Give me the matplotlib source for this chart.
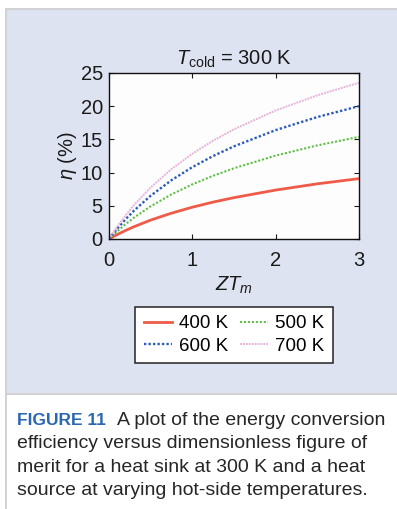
import matplotlib
matplotlib.use("Agg")
import matplotlib.pyplot as plt
from matplotlib.patches import Rectangle
from matplotlib import font_manager

# efficiency (%) against ZT_m for each hot-side temperature, T_cold = 300 K
zt = [0, 0.05, 0.1, 0.2, 0.3, 0.5, 0.75, 1.0, 1.25, 1.5, 2.0, 2.5, 3.0]
eta_400 = [0, 0.35, 0.68, 1.29, 1.85, 2.85, 3.89, 4.79, 5.56, 6.23, 7.37, 8.31, 9.09]
eta_500 = [0, 0.61, 1.18, 2.25, 3.22, 4.93, 6.72, 8.23, 9.52, 10.66, 12.56, 14.10, 15.38]
eta_600 = [0, 0.81, 1.58, 2.99, 4.27, 6.52, 8.86, 10.82, 12.50, 13.96, 16.40, 18.37, 20.00]
eta_700 = [0, 0.97, 1.89, 3.58, 5.11, 7.77, 10.53, 12.84, 14.82, 16.52, 19.36, 21.64, 23.53]
labels = ["400 K", "500 K", "600 K", "700 K"]

names = {f.name for f in font_manager.fontManager.ttflist}
sans = "Liberation Sans" if "Liberation Sans" in names else "DejaVu Sans"
narrow = "Liberation Sans Narrow" if "Liberation Sans Narrow" in names else sans
plt.rcParams["font.family"] = [sans, "DejaVu Sans"]
plt.rcParams["mathtext.fontset"] = "custom"
plt.rcParams["mathtext.rm"] = sans
plt.rcParams["mathtext.it"] = sans + ":italic"

W, H = 397, 509
fig = plt.figure(figsize=(W / 100, H / 100), dpi=100)
fig.patch.set_facecolor("white")


def box(x0, y0, x1, y1, color):
    # rectangle given in pixels from the top-left corner
    fig.patches.append(Rectangle((x0 / W, 1 - y1 / H), (x1 - x0) / W, (y1 - y0) / H,
                                 transform=fig.transFigure, color=color, lw=0, zorder=-10))


panel = "#dee3f2"
grey = "#d2d2d4"
box(7, 10, W, 393, panel)
box(5, 8, W, 10, grey)
box(5, 8, 7, H, grey)
box(7, 393, W, 395, grey)

ax = fig.add_axes([109 / W, 1 - 239 / H, 250 / W, 166 / H])
ax.set_facecolor("#fdfdfe")

l400, = ax.plot(zt, eta_400, color="#ef5b48", lw=2.0, label=labels[0])
l500, = ax.plot(zt, eta_500, color="#5fbf45", lw=1.5, ls=(0, (1, 0.9)), label=labels[1])
l600, = ax.plot(zt, eta_600, color="#2d5bbd", lw=1.7, ls=(0, (1, 0.9)), label=labels[2])
l700, = ax.plot(zt, eta_700, color="#e6b4da", lw=1.4, ls=(0, (1, 0.5)), label=labels[3])

ax.set_xlim(0, 3)
ax.set_ylim(0, 25)
ax.set_xticks([0, 1, 2, 3])
ax.set_yticks([0, 5, 10, 15, 20, 25])
ax.tick_params(direction="in", length=3.5, width=0.8, top=True, right=True,
               labelsize=14.5, colors="#1a1a1a")
ax.tick_params(axis="x", pad=9)
ax.tick_params(axis="y", pad=4.5)
for s in ax.spines.values():
    s.set_linewidth(1.0)
    s.set_color("#111111")

ax.set_title(r"$T_{\mathrm{cold}}$ = 300 K", fontsize=14.5, pad=6, color="#1a1a1a")
ax.set_xlabel(r"$ZT_m$", fontsize=14.5, labelpad=3, color="#1a1a1a")
ax.set_ylabel(r"$\eta$ (%)", fontsize=14.5, labelpad=1, color="#1a1a1a")

# two columns, filled row by row
leg = fig.legend([l400, l600, l500, l700], [labels[0], labels[2], labels[1], labels[3]],
                 loc="center", bbox_to_anchor=(234 / W, 1 - 335 / H), ncol=2,
                 fontsize=13.5, frameon=True, fancybox=False, edgecolor="#222222",
                 framealpha=1, handlelength=1.5, handletextpad=0.4, columnspacing=0.6,
                 labelspacing=0.28, borderpad=0.45)
leg.get_frame().set_linewidth(1.1)

# caption under the panel
cap_kw = dict(family=[narrow, "DejaVu Sans"], va="baseline")
fig.text(17 / W, 1 - 425 / H, "FIGURE 11", color="#2a67b3", weight="bold",
         fontsize=12.5, **cap_kw)
fig.text(117 / W, 1 - 425 / H, "A plot of the energy conversion", color="#262626",
         fontsize=14, **cap_kw)
rest = ["efficiency versus dimensionless figure of",
        "merit for a heat sink at 300 K and a heat",
        "source at varying hot-side temperatures."]
for i, line in enumerate(rest):
    fig.text(17 / W, 1 - (448 + 23.5 * i) / H, line, color="#262626", fontsize=14, **cap_kw)

fig.savefig("out.png", dpi=100)
